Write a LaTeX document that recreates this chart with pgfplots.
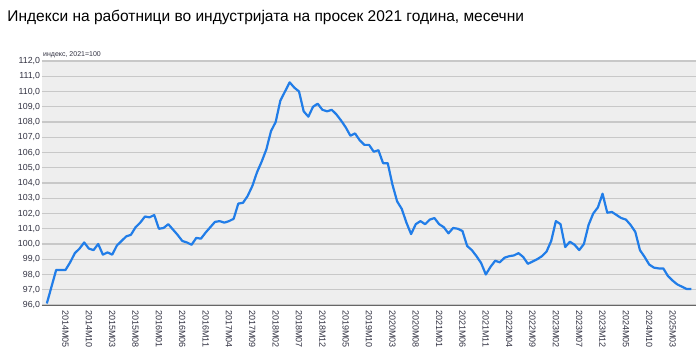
\documentclass[border=0pt]{standalone}
\usepackage{fontspec}
\setmainfont{Liberation Sans}
\usepackage{pgfplots}
\pgfplotsset{compat=1.18}
\definecolor{linecol}{RGB}{33,125,232}
\definecolor{bgcol}{RGB}{238,238,238}
\definecolor{gridcol}{RGB}{200,200,200}
\definecolor{tickcol}{RGB}{50,50,66}
\begin{document}
\begin{tikzpicture}
\useasboundingbox (-41.7pt,-56pt) rectangle (658.3pt,305pt);
\begin{axis}[
  at={(0pt,0pt)}, anchor=south west,
  scale only axis, width=653.8pt, height=244pt,
  xmin=-1.1, xmax=138.9, ymin=96, ymax=112,
  axis background/.style={fill=bgcol},
  axis x line*=bottom, axis y line*=left,
  x axis line style={draw=black!60, line width=0.8pt, -},
  y axis line style={draw=none},
  ymajorgrids, major grid style={draw=gridcol, line width=1.3pt},
  major tick length=0pt,
  ytick={96,97,...,112},
  xtick={4,9,...,134},
  xticklabels={2014M05,2014M10,2015M03,2015M08,2016M01,2016M06,2016M11,2017M04,2017M09,2018M02,2018M07,2018M12,2019M05,2019M10,2020M03,2020M08,2021M01,2021M06,2021M11,2022M04,2022M09,2023M02,2023M07,2023M12,2024M05,2024M10,2025M03},
  xticklabel style={rotate=-90, anchor=west, inner sep=0pt, font=\fontsize{9}{10}\selectfont, text=tickcol},
  xticklabel shift=5pt,
  yticklabel style={font=\fontsize{8.8}{10}\selectfont, text=tickcol, inner sep=1.5pt},
  /pgf/number format/.cd, fixed, fixed zerofill, precision=1, use comma, assume math mode=true,
]
\addplot[color=linecol, line width=2.2pt, no markers, line join=round] coordinates {
(0,96.1)(1,97.2)(2,98.3)(3,98.3)(4,98.3)(5,98.8)(6,99.4)(7,99.7)(8,100.1)(9,99.7)
(10,99.6)(11,100.0)(12,99.3)(13,99.45)(14,99.3)(15,99.9)(16,100.2)(17,100.5)(18,100.6)(19,101.1)
(20,101.4)(21,101.8)(22,101.75)(23,101.9)(24,101.0)(25,101.05)(26,101.3)(27,100.95)(28,100.6)(29,100.2)
(30,100.1)(31,99.95)(32,100.4)(33,100.35)(34,100.75)(35,101.1)(36,101.45)(37,101.5)(38,101.4)(39,101.5)
(40,101.65)(41,102.65)(42,102.7)(43,103.15)(44,103.8)(45,104.7)(46,105.4)(47,106.2)(48,107.4)(49,108.0)
(50,109.4)(51,110.0)(52,110.6)(53,110.25)(54,110.0)(55,108.7)(56,108.35)(57,109.0)(58,109.2)(59,108.8)
(60,108.7)(61,108.8)(62,108.5)(63,108.1)(64,107.65)(65,107.1)(66,107.25)(67,106.8)(68,106.5)(69,106.5)
(70,106.05)(71,106.15)(72,105.3)(73,105.3)(74,103.9)(75,102.8)(76,102.3)(77,101.4)(78,100.65)(79,101.3)
(80,101.5)(81,101.3)(82,101.6)(83,101.7)(84,101.3)(85,101.1)(86,100.7)(87,101.05)(88,101.0)(89,100.85)
(90,99.87)(91,99.6)(92,99.2)(93,98.75)(94,98.0)(95,98.5)(96,98.9)(97,98.8)(98,99.1)(99,99.2)
(100,99.25)(101,99.4)(102,99.15)(103,98.7)(104,98.85)(105,99.0)(106,99.2)(107,99.5)(108,100.2)(109,101.5)
(110,101.3)(111,99.8)(112,100.15)(113,99.95)(114,99.6)(115,100.0)(116,101.25)(117,102.0)(118,102.4)(119,103.3)
(120,102.05)(121,102.1)(122,101.9)(123,101.7)(124,101.6)(125,101.25)(126,100.8)(127,99.6)(128,99.15)(129,98.65)
(130,98.45)(131,98.4)(132,98.4)(133,97.9)(134,97.6)(135,97.35)(136,97.2)(137,97.05)(138,97.05)
};
\end{axis}
\node[anchor=west, inner sep=0pt, font=\fontsize{15.5}{17}\selectfont] at (-34.4pt,288pt) {Индекси на работници во индустријата на просек 2021 година, месечни};
\node[anchor=base west, inner sep=0pt, font=\fontsize{7}{8}\selectfont, text=tickcol] at (1.3pt,248pt) {индекс, 2021=100};
\end{tikzpicture}
\end{document}
